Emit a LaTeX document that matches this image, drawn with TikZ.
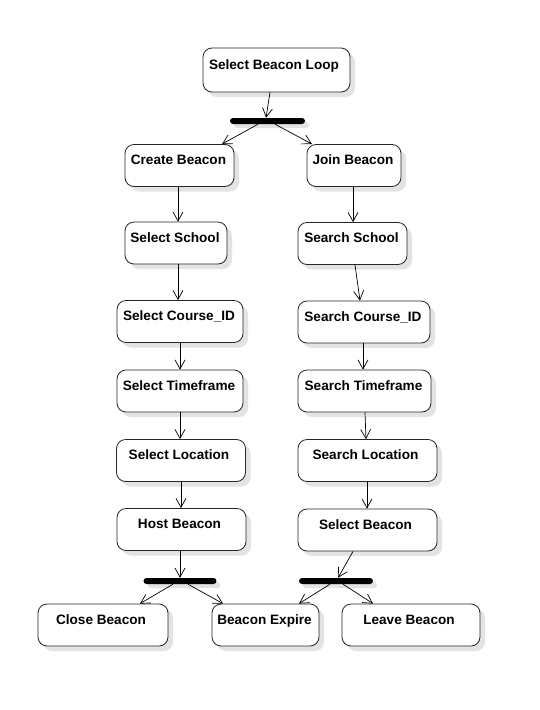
\documentclass[tikz,border=0pt]{standalone}
\usepackage{fontspec}
\setmainfont{Liberation Sans}
\usetikzlibrary{arrows.meta,shadows}
\begin{document}
\begin{tikzpicture}[x=1pt,y=-1pt,
  act/.style={draw=black!85, line width=0.8pt, rounded corners=9pt, fill=white,
    font=\fontsize{13.6}{15}\selectfont\bfseries, inner xsep=0pt, inner ysep=0pt,
    text height=20pt, text depth=22pt,
    drop shadow={shadow xshift=5pt, shadow yshift=-5pt, fill=black!11, opacity=1}},
  bar/.style={fill=black, rounded corners=3pt, minimum height=6pt, inner sep=0pt,
    drop shadow={shadow xshift=4pt, shadow yshift=-4pt, fill=black!11, opacity=1}},
  conn/.style={-{Straight Barb[length=9pt,width=10pt]}, line width=0.7pt}]
\useasboundingbox (0,0) rectangle (540,710);
\fill[white] (0,0) rectangle (540,710);

\node[act, minimum width=147pt, text height=21pt, text depth=23pt] (loop) at (276.5,70) {Select Beacon Loop\hspace*{5pt}};
\node[bar, minimum width=75pt] (bar1) at (267.5,121) {};
\node[act, minimum width=109pt] (create) at (179.5,165.5) {Create Beacon\hspace*{2pt}};
\node[act, minimum width=94pt] (join) at (354,165.5) {Join Beacon\hspace*{2pt}};
\node[act, minimum width=102pt] (sschool) at (176,243) {Select School\hspace*{2pt}};
\node[act, minimum width=109pt] (rschool) at (352.5,243.5) {Search School\hspace*{2pt}};
\node[act, minimum width=126pt] (scourse) at (180,321.5) {Select Course\_ID\hspace*{2pt}};
\node[act, minimum width=132pt] (rcourse) at (364,322) {Search Course\_ID\hspace*{2pt}};
\node[act, minimum width=126pt] (stime) at (180,391) {Select Timeframe\hspace*{2pt}};
\node[act, minimum width=133pt] (rtime) at (364.5,391) {Search Timeframe\hspace*{2pt}};
\node[act, minimum width=129pt] (sloc) at (181,460.5) {Select Location\hspace*{4pt}};
\node[act, minimum width=139pt] (rloc) at (367.5,460.5) {Search Location\hspace*{4pt}};
\node[act, minimum width=129pt] (host) at (181.5,529.5) {Host Beacon\hspace*{4pt}};
\node[act, minimum width=139pt] (rbeacon) at (367.5,530) {Select Beacon\hspace*{4pt}};
\node[bar, minimum width=73pt] (bar2) at (180,581) {};
\node[bar, minimum width=74pt] (bar3) at (336,581) {};
\node[act, minimum width=130pt] (close) at (103,625) {Close Beacon\hspace*{4pt}};
\node[act, minimum width=107pt] (expire) at (265.5,625) {Beacon Expire\hspace*{2pt}};
\node[act, minimum width=138pt] (leave) at (411,625) {Leave Beacon\hspace*{4pt}};

\draw[conn] ([xshift=-6.5pt]loop.south) -- ([xshift=-1.5pt]bar1.north);
\draw[conn] ([xshift=-9.5pt]bar1.south) -- ([xshift=42.5pt]create.north);
\draw[conn] ([xshift=7.5pt]bar1.south) -- ([xshift=-42pt]join.north);
\draw[conn] ([xshift=-1.5pt]create.south) -- ([xshift=2pt]sschool.north);
\draw[conn] ([xshift=2pt]sschool.south) -- ([xshift=-2pt]scourse.north);
\draw[conn] ([xshift=0pt]scourse.south) -- ([xshift=0pt]stime.north);
\draw[conn] ([xshift=0pt]stime.south) -- ([xshift=-1pt]sloc.north);
\draw[conn] ([xshift=0pt]sloc.south) -- ([xshift=-0.5pt]host.north);
\draw[conn] ([xshift=-1pt]join.south) -- ([xshift=0.5pt]rschool.north);
\draw[conn] ([xshift=2.5pt]rschool.south) -- ([xshift=-4pt]rcourse.north);
\draw[conn] ([xshift=-1pt]rcourse.south) -- ([xshift=-1.5pt]rtime.north);
\draw[conn] ([xshift=0.5pt]rtime.south) -- ([xshift=-1.5pt]rloc.north);
\draw[conn] ([xshift=-0.5pt]rloc.south) -- ([xshift=-0.5pt]rbeacon.north);
\draw[conn] ([xshift=-1.5pt]host.south) -- ([xshift=0pt]bar2.north);
\draw[conn] ([xshift=-7pt]bar2.south) -- ([xshift=37pt]close.north);
\draw[conn] ([xshift=8pt]bar2.south) -- ([xshift=-42.5pt]expire.north);
\draw[conn] ([xshift=-14.5pt]rbeacon.south) -- ([xshift=2pt]bar3.north);
\draw[conn] ([xshift=-6pt]bar3.south) -- ([xshift=33.5pt]expire.north);
\draw[conn] ([xshift=7pt]bar3.south) -- ([xshift=-38pt]leave.north);
\end{tikzpicture}
\end{document}
